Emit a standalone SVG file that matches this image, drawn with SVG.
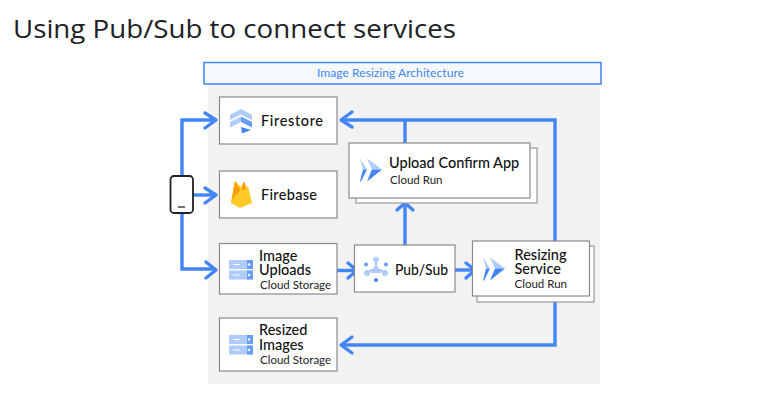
<svg xmlns="http://www.w3.org/2000/svg" width="780" height="400" viewBox="0 0 780 400">
<style>
.box{fill:#fff;stroke:#8a8a8a;stroke-width:1.2}
.back{fill:#fff;stroke:#9a9a9a;stroke-width:1.2}
.t{font-family:"Lato","Noto Sans",sans-serif;font-size:14.5px;fill:#111;font-weight:500}
.s{font-family:"Lato","Noto Sans",sans-serif;font-size:11.5px;fill:#222;font-weight:400}
.c{fill:none;stroke:#4285f4;stroke-width:3.4;stroke-linejoin:miter}
.h{fill:none;stroke:#4285f4;stroke-width:3.4;stroke-linecap:round;stroke-linejoin:round}
.b1{fill:#aecbfa}.b2{fill:#669df6}.b3{fill:#4285f4}
</style>
<defs>
<g id="run">
<path class="b1" d="M0 0L7 11H3Z"/>
<path class="b3" d="M3 11H7L1 23H0Z"/>
<path class="b1" d="M7 0L22 11H12Z"/>
<path class="b3" d="M12 11H22L7 23Z"/>
</g>
<g id="storage">
<rect class="b1" x="0" y="0" width="24" height="9"/>
<rect class="b2" x="18" y="0" width="6" height="9"/>
<rect class="b1" x="0" y="10.500" width="24" height="9"/>
<rect class="b2" x="18" y="10.500" width="6" height="9"/>
<path d="M4 4.500H11M4 15H11" stroke="#fff" stroke-width="1"/>
<circle cx="20" cy="4.500" r="1.300" fill="#fff"/><circle cx="20" cy="15" r="1.300" fill="#fff"/>
</g>
</defs>
<rect width="780" height="400" fill="#fff"/>
<text x="13" y="38" font-family="'Open Sans','Noto Sans',sans-serif" font-size="25" fill="#202124" textLength="443" lengthAdjust="spacingAndGlyphs">Using Pub/Sub to connect services</text>
<rect x="208" y="84" width="392" height="300" fill="#f2f2f2"/>
<g id="header">
<rect x="204" y="62.500" width="397" height="21.500" fill="#f5f9fe" stroke="#4285f4" stroke-width="1.500"/>
<text x="317" y="77" font-family="Lato,'Noto Sans',sans-serif" font-size="11.500" fill="#4285f4" textLength="147" lengthAdjust="spacingAndGlyphs">Image Resizing Architecture</text>
</g>
<g id="connectors">
<path class="c" d="M182 176V120H214"/>
<path class="h" d="M205 113L216 120L205 128"/>
<path class="c" d="M193 195H214"/>
<path class="h" d="M205 188L216 195L205 203"/>
<path class="c" d="M182 213V269H214"/>
<path class="h" d="M206 262L216 270L206 278"/>
<path class="c" d="M337 270.500H355"/>
<path class="h" d="M348 263L357 270.500L348 278"/>
<path class="c" d="M455 270H473"/>
<path class="h" d="M466 263L475 270L466 278"/>
<path class="c" d="M405 245V204"/>
<path class="h" d="M397 210L405 203L413 210"/>
<path class="c" d="M555 241V120H343"/>
<path class="h" d="M352 112L341 120L352 127"/>
<path class="c" d="M405 143V120"/>
<path class="c" d="M555 296V345H343"/>
<path class="h" d="M352 337L341 345L352 353"/>
</g>
<g id="phone">
<rect x="170.500" y="176" width="22.500" height="37" rx="3.500" fill="#fff" stroke="#222" stroke-width="1.800"/>
<path d="M178 207H185" stroke="#222" stroke-width="1.300"/>
</g>
<g id="firestore">
<rect class="box" x="219.500" y="97" width="117.500" height="47"/>
<path class="b1" d="M230 115L241 109L252 115V120L241 114.500L230 120Z"/>
<path class="b1" d="M230 122L241 116.500V122L230 127.500Z"/>
<path class="b2" d="M241 116.500L252 122V127.500L241 122Z"/>
<path class="b3" d="M241 127L251 130L242 133.500Z"/>
<text class="t" x="261" y="126" textLength="62" lengthAdjust="spacing">Firestore</text>
</g>
<g id="firebase">
<rect class="box" x="219.500" y="171" width="117.500" height="47"/>
<path fill="#ffa000" d="M231 203L235 181L240 190L244 181L252 203Z"/>
<path fill="#f57c00" d="M235 195L238 187L243 199Z"/>
<path fill="#ffca28" d="M231 203L240 208L252 203L248 186L243 191L240 186L235 181Z"/>
<path fill="#ffa000" d="M235 181L240 190L236 195L232 200Z"/>
<text class="t" x="261" y="200" textLength="56" lengthAdjust="spacing">Firebase</text>
</g>
<g id="image-uploads">
<rect class="box" x="219.500" y="243.500" width="117.500" height="50.500"/>
<use href="#storage" x="229" y="260"/>
<text class="t" x="259" y="261">Image<tspan x="259" dy="14">Uploads</tspan><tspan class="s" x="260" dy="14">Cloud Storage</tspan></text>
</g>
<g id="resized-images">
<rect class="box" x="219.500" y="318" width="117.500" height="53"/>
<use href="#storage" x="229" y="335"/>
<text class="t" x="259" y="335">Resized<tspan x="259" dy="15">Images</tspan><tspan class="s" x="260" dy="14">Cloud Storage</tspan></text>
</g>
<g id="pub-sub">
<rect class="box" x="354.500" y="245" width="100.500" height="47"/>
<path d="M376 261V268M368 272L376 268L384 272" fill="none" stroke="#8ab4f8" stroke-width="1.500"/>
<circle class="b1" cx="376" cy="259.500" r="2.800"/><circle class="b1" cx="367" cy="273" r="3"/><circle class="b1" cx="385" cy="273" r="3"/>
<circle class="b2" cx="366" cy="264.500" r="2"/><circle class="b2" cx="386" cy="264.500" r="2"/><circle class="b3" cx="376" cy="280" r="2"/>
<path class="b1" d="M376 264L381 273H371Z"/>
<text class="t" x="395" y="275" textLength="53" lengthAdjust="spacingAndGlyphs">Pub/Sub</text>
</g>
<g id="resizing-service">
<rect class="back" x="477" y="246" width="117" height="56"/>
<rect class="box" x="472.500" y="241" width="117" height="55"/>
<use href="#run" x="483" y="257.500"/>
<text class="t" x="514.500" y="260">Resizing<tspan x="514.500" dy="14">Service</tspan><tspan class="s" x="514.500" dy="14">Cloud Run</tspan></text>
</g>
<g id="upload-confirm-app">
<rect class="back" x="356" y="148" width="181" height="55"/>
<rect class="box" x="349" y="143" width="181" height="55"/>
<use href="#run" x="360" y="158.500"/>
<text class="t" x="389" y="168">Upload Confirm App</text>
<text class="s" x="390" y="184">Cloud Run</text>
</g>
</svg>
